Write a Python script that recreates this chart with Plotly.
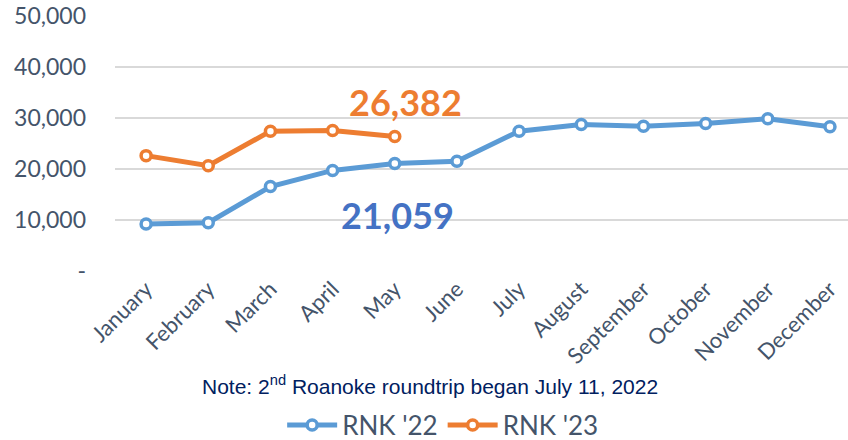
import plotly.graph_objects as go

months = ["January", "February", "March", "April", "May", "June", "July",
          "August", "September", "October", "November", "December"]
rnk_22 = [9210, 9470, 16570, 19720, 21059, 21500, 27420, 28740, 28400, 28930, 29860, 28280]
rnk_23 = [22620, 20650, 27420, 27550, 26382]
y_ticks = [0, 10000, 20000, 30000, 40000, 50000]
y_tick_text = ["-", "10,000", "20,000", "30,000", "40,000", "50,000"]

BLUE = "#5B9BD5"
ORANGE = "#ED7D31"
SLATE = "#44546A"
FONT = "Lato"

fig = go.Figure()
fig.add_trace(go.Scatter(
    x=months, y=rnk_22, name="RNK '22", mode="lines+markers",
    line=dict(color=BLUE, width=5),
    marker=dict(symbol="circle", size=10, color="white", line=dict(color=BLUE, width=3.5)),
))
fig.add_trace(go.Scatter(
    x=months[:len(rnk_23)], y=rnk_23, name="RNK '23", mode="lines+markers",
    line=dict(color=ORANGE, width=5),
    marker=dict(symbol="circle", size=10, color="white", line=dict(color=ORANGE, width=3.5)),
))

# Callouts for the latest month of each year
last = len(rnk_23) - 1
fig.add_annotation(x=months[last], y=rnk_23[last], text=f"{rnk_23[last]:,}",
                   showarrow=False, xshift=11, yshift=34,
                   font=dict(family=FONT, size=36, color=ORANGE, weight="bold"))
fig.add_annotation(x=months[last], y=rnk_22[last], text=f"{rnk_22[last]:,}",
                   showarrow=False, xshift=3, yshift=-51,
                   font=dict(family=FONT, size=36, color="#4472C4", weight="bold"))

fig.add_annotation(xref="paper", yref="paper", x=0.43, y=-0.447,
                   text="Note: 2<sup>nd</sup> Roanoke roundtrip began July 11, 2022",
                   showarrow=False, xanchor="center", yanchor="middle",
                   font=dict(family="Liberation Sans, Arial", size=21, color="#002060"))

fig.update_layout(
    width=848, height=440,
    margin=dict(l=115, r=0, t=16, b=169),
    paper_bgcolor="white", plot_bgcolor="white",
    font=dict(family=FONT, color=SLATE),
    showlegend=True,
    legend=dict(orientation="h", xref="container", yref="container",
                x=0.522, xanchor="center", y=0.034, yanchor="middle",
                font=dict(family=FONT, size=26, color=SLATE), itemwidth=50),
    xaxis=dict(range=[-0.5, 11.29], tickangle=-45, showgrid=False, showline=False,
               tickfont=dict(family=FONT, size=22, color=SLATE), ticks=""),
    yaxis=dict(range=[0, 50000], tickvals=y_ticks, ticktext=y_tick_text,
               showgrid=True, gridcolor="#D9D9D9", gridwidth=1.5, zeroline=False,
               showline=False, ticklabelstandoff=28,
               tickfont=dict(family=FONT, size=23, color=SLATE)),
)

fig.write_html("out.html")
